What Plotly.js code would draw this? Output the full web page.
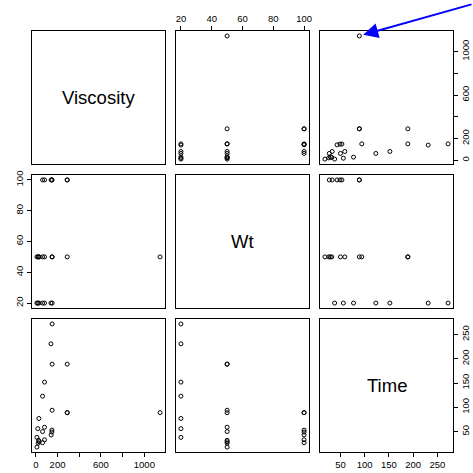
<!DOCTYPE html>
<html>
<head>
<meta charset="utf-8">
<script src="https://cdn.plot.ly/plotly-3.0.1.min.js"></script>
<style>html,body{margin:0;padding:0;background:#fff;}#chart{width:473px;height:473px;}</style>
</head>
<body>
<div id="chart"></div>
<script>
// Data (grouped by Wt: 20, 50, 100)
const viscosity = [150, 139, 80, 62, 28, 18, 10,
                   150, 289, 150, 1145, 80, 62, 25, 30, 21, 10,
                   289, 289, 148, 148, 141, 80, 62];
const wt =        [20, 20, 20, 20, 20, 20, 20,
                   50, 50, 50, 50, 50, 50, 50, 50, 50, 50,
                   100, 100, 100, 100, 100, 100, 100];
const time =      [272, 231, 152, 123, 77, 56, 38,
                   189, 189, 94, 89, 59, 50, 32, 29, 26, 18,
                   89, 89, 53, 49, 43, 33, 27];
const varNames = ['Viscosity', 'Wt', 'Time'];

const viscTicks = [0, 200, 400, 600, 800, 1000];
const viscTickText = ['0', '200', '', '600', '', '1000'];
const wtTicks = [20, 40, 60, 80, 100];
const timeTicks = [50, 100, 150, 200, 250];

const vars = [viscosity, wt, time];
const W = 473, H = 473;
const colPx = [[32, 165], [176, 309], [320, 453]];
const rowPx = [[31, 164], [175, 308], [319, 452]];

function pad(arr) {
  const mn = Math.min(...arr), mx = Math.max(...arr);
  const d = (mx - mn) * 0.04;
  return [mn - d, mx + d];
}
const ranges = vars.map(pad);

const font = {family: 'Liberation Sans, Arial, Helvetica, sans-serif', color: '#000'};
const traces = [];
const layout = {
  width: W, height: H,
  margin: {l: 0, r: 0, t: 0, b: 0},
  paper_bgcolor: '#fff', plot_bgcolor: '#fff',
  showlegend: false,
  font: Object.assign({size: 10}, font),
  annotations: []
};

function baseAxis(extra) {
  return Object.assign({
    showgrid: false, zeroline: false, showline: true, mirror: true,
    linecolor: '#000', linewidth: 1, ticks: '', showticklabels: false,
    fixedrange: true
  }, extra);
}
const tickStyle = {ticks: 'outside', ticklen: 4, tickwidth: 1, tickcolor: '#000',
  showticklabels: true, tickfont: Object.assign({size: 9.5}, font)};

for (let r = 0; r < 3; r++) {
  for (let c = 0; c < 3; c++) {
    const k = r * 3 + c + 1;
    const xa = 'xaxis' + (k === 1 ? '' : k), ya = 'yaxis' + (k === 1 ? '' : k);
    const xr = 'x' + (k === 1 ? '' : k), yr = 'y' + (k === 1 ? '' : k);
    const xd = [colPx[c][0] / W, colPx[c][1] / W];
    const yd = [1 - rowPx[r][1] / H, 1 - rowPx[r][0] / H];
    const xAx = baseAxis({domain: xd, anchor: yr, range: ranges[c]});
    const yAx = baseAxis({domain: yd, anchor: xr, range: ranges[r]});

    // tick axes as in R pairs()
    if (r === 0 && c === 1) Object.assign(xAx, tickStyle, {side: 'top', tickvals: wtTicks});
    if (r === 0 && c === 2) Object.assign(yAx, tickStyle, {side: 'right', tickvals: viscTicks, ticktext: viscTickText, tickangle: -90});
    if (r === 1 && c === 0) Object.assign(yAx, tickStyle, {side: 'left', tickvals: wtTicks, tickangle: -90});
    if (r === 2 && c === 0) Object.assign(xAx, tickStyle, {side: 'bottom', tickvals: viscTicks, ticktext: viscTickText});
    if (r === 2 && c === 2) {
      Object.assign(xAx, tickStyle, {side: 'bottom', tickvals: timeTicks});
      Object.assign(yAx, tickStyle, {side: 'right', tickvals: timeTicks, tickangle: -90});
    }
    layout[xa] = xAx;
    layout[ya] = yAx;

    if (r === c) {
      // empty trace so the diagonal subplot box is drawn
      traces.push({
        type: 'scatter', mode: 'markers', x: [null], y: [null],
        xaxis: xr, yaxis: yr, hoverinfo: 'skip', marker: {opacity: 0}
      });
      layout.annotations.push({
        xref: xr + ' domain', yref: yr + ' domain', x: 0.5, y: 0.5,
        text: varNames[r], showarrow: false,
        font: Object.assign({size: 18.5}, font)
      });
    } else {
      traces.push({
        type: 'scatter', mode: 'markers',
        x: vars[c], y: vars[r], xaxis: xr, yaxis: yr,
        marker: {symbol: 'circle-open', size: 4, color: '#000', line: {width: 1, color: '#000'}},
        hoverinfo: 'skip', cliponaxis: false
      });
    }
  }
}

// Blue arrow pointing at the largest viscosity in the Viscosity vs Time panel
const iMax = viscosity.indexOf(Math.max(...viscosity));
layout.annotations.push({
  xref: 'x3', yref: 'y3', x: time[iMax], y: viscosity[iMax],
  text: '', showarrow: true, ax: 118, ay: -32,
  arrowcolor: '#0000ff', arrowwidth: 2, arrowhead: 2, arrowsize: 1.5, standoff: 4
});

Plotly.newPlot('chart', traces, layout, {staticPlot: true, displayModeBar: false});
</script>
</body>
</html>
